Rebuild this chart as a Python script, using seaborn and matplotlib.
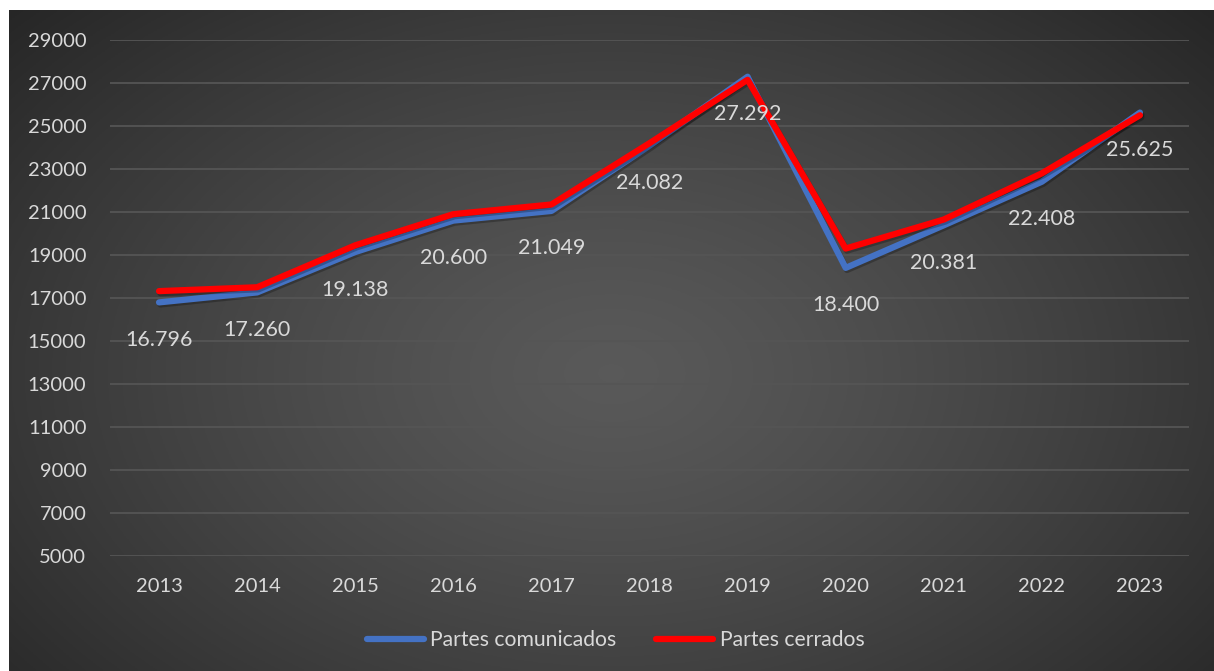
import numpy as np
import pandas as pd
import matplotlib
matplotlib.use("Agg")
import matplotlib.pyplot as plt
import matplotlib.patheffects as pe
import seaborn as sns

years = ["2013", "2014", "2015", "2016", "2017", "2018", "2019", "2020", "2021", "2022", "2023"]
comunicados = [16796, 17260, 19138, 20600, 21049, 24082, 27292, 18400, 20381, 22408, 25625]
cerrados = [17320, 17500, 19450, 20900, 21350, 24200, 27150, 19300, 20650, 22800, 25500]
y_ticks = list(range(5000, 29001, 2000))

sns.set_theme(style="dark")
plt.rcParams["font.family"] = ["Lato", "DejaVu Sans"]

fig = plt.figure(figsize=(12.14, 6.71), dpi=100)
fig.patch.set_facecolor("white")

# dark radial background panel
bg = fig.add_axes([9 / 1214, 0, 1 - 9 / 1214, 661 / 671])
bg.set_axis_off()
gx, gy = np.meshgrid(np.linspace(0, 1, 400), np.linspace(0, 1, 250))
r = np.sqrt(((gx - 0.5) / 0.75) ** 2 + ((gy - 0.55) / 0.9) ** 2)
r = np.clip(r / r.max(), 0, 1)
shade = 0.35 - (0.35 - 0.15) * r ** 1.3
bg.imshow(np.dstack([shade, shade, shade]), extent=[0, 1, 0, 1], aspect="auto", origin="upper")
bg.set_xlim(0, 1)
bg.set_ylim(0, 1)

ax = fig.add_axes([110 / 1214, (671 - 556) / 671, (1189 - 110) / 1214, (556 - 40) / 671])
ax.set_facecolor("none")

df = pd.DataFrame({"year": years, "Partes comunicados": comunicados, "Partes cerrados": cerrados})
shadow = [pe.SimpleLineShadow(offset=(1, -1.5), alpha=0.25, shadow_color="black"), pe.Normal()]

sns.lineplot(data=df, x="year", y="Partes comunicados", ax=ax, color="#4472C4", linewidth=4.5,
             label="Partes comunicados", sort=False, path_effects=shadow, solid_capstyle="round")
sns.lineplot(data=df, x="year", y="Partes cerrados", ax=ax, color="#FF0000", linewidth=4.5,
             label="Partes cerrados", sort=False, path_effects=shadow, solid_capstyle="round")

for i, v in enumerate(comunicados):
    ax.annotate(f"{v:,}".replace(",", "."), (i, v), xytext=(0, -27), textcoords="offset points",
                ha="center", va="center", color="#D9D9D9", fontsize=15.5)

ax.set_xlim(-0.5, len(years) - 0.5)
ax.set_ylim(5000, 29000)
ax.set_yticks(y_ticks)
ax.set_yticklabels([str(t) for t in y_ticks])
ax.set_xlabel("")
ax.set_ylabel("")
ax.grid(axis="y", color="#555555", linewidth=1.3)
ax.grid(axis="x", visible=False)
for s in ax.spines.values():
    s.set_visible(False)
ax.tick_params(axis="y", colors="#D9D9D9", labelsize=14.5, length=0, pad=17)
ax.tick_params(axis="x", colors="#D9D9D9", labelsize=14.5, length=0, pad=16)

leg = ax.legend(loc="center", bbox_to_anchor=(0.507, 0.046), bbox_transform=fig.transFigure, ncol=2,
                frameon=False, fontsize=15.2, handlelength=2.7, handletextpad=0.3, columnspacing=1.9)
for t in leg.get_texts():
    t.set_color("#D9D9D9")
for h in leg.get_lines():
    h.set_linewidth(4.5)
    h.set_path_effects([])

fig.savefig("out.png", dpi=100)
